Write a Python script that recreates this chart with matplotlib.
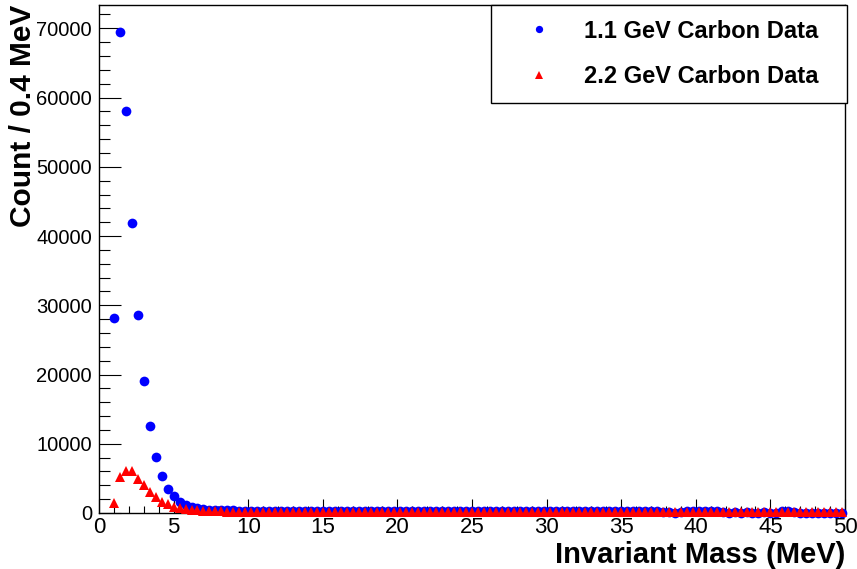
import numpy as np
import matplotlib
matplotlib.use('Agg')
import matplotlib.pyplot as plt
from matplotlib.ticker import MultipleLocator

plt.rcParams['font.family'] = ['Liberation Sans', 'DejaVu Sans']

# bin centres (0.4 MeV bins), first filled bin at 1.0 MeV
mass = np.arange(123) * 0.4 + 1.0

# 1.1 GeV carbon data
counts_11 = [
    28100, 69500, 58100, 41900, 28600, 19000, 12500, 8150, 5350, 3400,
    2400, 1550, 1120, 830, 680, 580, 500, 450, 420, 400,
    380, 360, 350,
    340, 330, 335, 320, 325, 310, 315, 305, 300, 310,
    295, 300, 290, 295, 285, 290, 280, 295, 285, 280,
    290, 280, 285, 275, 290, 280, 285, 295, 280, 290,
    300, 290, 285, 300, 310, 295, 305, 300, 310, 320,
    310, 305, 315, 300, 320, 310, 305, 300, 295, 290,
    300, 285, 290, 280, 285, 275, 280, 270, 275, 265,
    270, 260, 265, 255, 260, 250, 245, 240, 230,
    90, 80, 70, 85,
    240, 260, 250, 270, 240, 220,
    90, 70, 80, 60, 75, 70, 65, 80, 60, 70,
    230, 250, 210,
    60, 50, 70, 55, 60, 45, 50, 40,
]

# 2.2 GeV carbon data
counts_22 = [
    1450, 5200, 6100, 6050, 4980, 4000, 3020, 2240, 1660, 1270,
    880, 680, 560, 450, 380, 320, 280, 250, 230, 215,
    200, 190, 185,
    180, 175, 170, 175, 165, 170, 160, 165, 170, 160,
    155, 160, 165, 150, 160, 155, 150, 160, 150, 155,
    150, 145, 155, 150, 145, 150, 140, 150, 145, 140,
    145, 140, 150, 140, 135, 145, 140, 135, 140, 130,
    135, 140, 130, 135, 130, 125, 135, 130, 125, 130,
    125, 130, 120, 125, 130, 120, 125, 120, 115, 125,
    120, 115, 120, 110, 120, 115, 110, 115, 110, 105,
    110, 115, 105, 110, 100, 110, 105, 100, 105, 100,
    95, 105, 100, 95, 100, 90, 100, 95, 90, 95,
    90, 95, 85, 90, 95, 85, 90, 85, 80, 90,
]

W, H = 857, 569
fig = plt.figure(figsize=(W / 100, H / 100), dpi=100)
ax = fig.add_axes([99 / W, (H - 513) / H, (845 - 99) / W, (513 - 5) / H])

ax.plot(mass, counts_11, 'o', color='#0000ff', markersize=7, markeredgewidth=0,
        clip_on=False, zorder=3, label='1.1 GeV Carbon Data')
ax.plot(mass, counts_22, '^', color='#ff0000', markersize=7, markeredgewidth=0,
        clip_on=False, zorder=4, label='2.2 GeV Carbon Data')

ax.set_xlim(0, 50)
ax.set_ylim(0, 73370)
ax.xaxis.set_major_locator(MultipleLocator(5))
ax.xaxis.set_minor_locator(MultipleLocator(1))
ax.yaxis.set_major_locator(MultipleLocator(10000))
ax.yaxis.set_minor_locator(MultipleLocator(2000))

ax.tick_params(axis='x', which='major', direction='in', length=10, width=0.8,
               labelsize=16, pad=3, top=False)
ax.tick_params(axis='x', which='minor', direction='in', length=5, width=0.8, top=False)
ax.tick_params(axis='y', which='major', direction='in', length=16, width=0.8,
               labelsize=14.5, pad=5, right=False)
ax.tick_params(axis='y', which='minor', direction='in', length=8, width=0.8, right=False)
for s in ax.spines.values():
    s.set_linewidth(1.0)

ax.set_xlabel('Invariant Mass (MeV)', fontsize=21, fontweight='bold', loc='right', labelpad=2)
fig.text(23 / W, 1 - 5 / H, 'Count / 0.4 MeV', rotation=90, ha='center', va='top',
         fontsize=21.5, fontweight='bold')

leg = ax.legend(loc='upper left', bbox_to_anchor=(0.5255, 0.815, 0.4772, 0.185),
                mode='expand', borderaxespad=0, fancybox=False, framealpha=1,
                edgecolor='black', prop={'size': 17, 'weight': 'bold'},
                markerscale=0.75, borderpad=0.62, labelspacing=0.95,
                handlelength=2.8, handletextpad=0.52)
leg.get_frame().set_linewidth(1.0)

fig.savefig('out.png', dpi=100)
